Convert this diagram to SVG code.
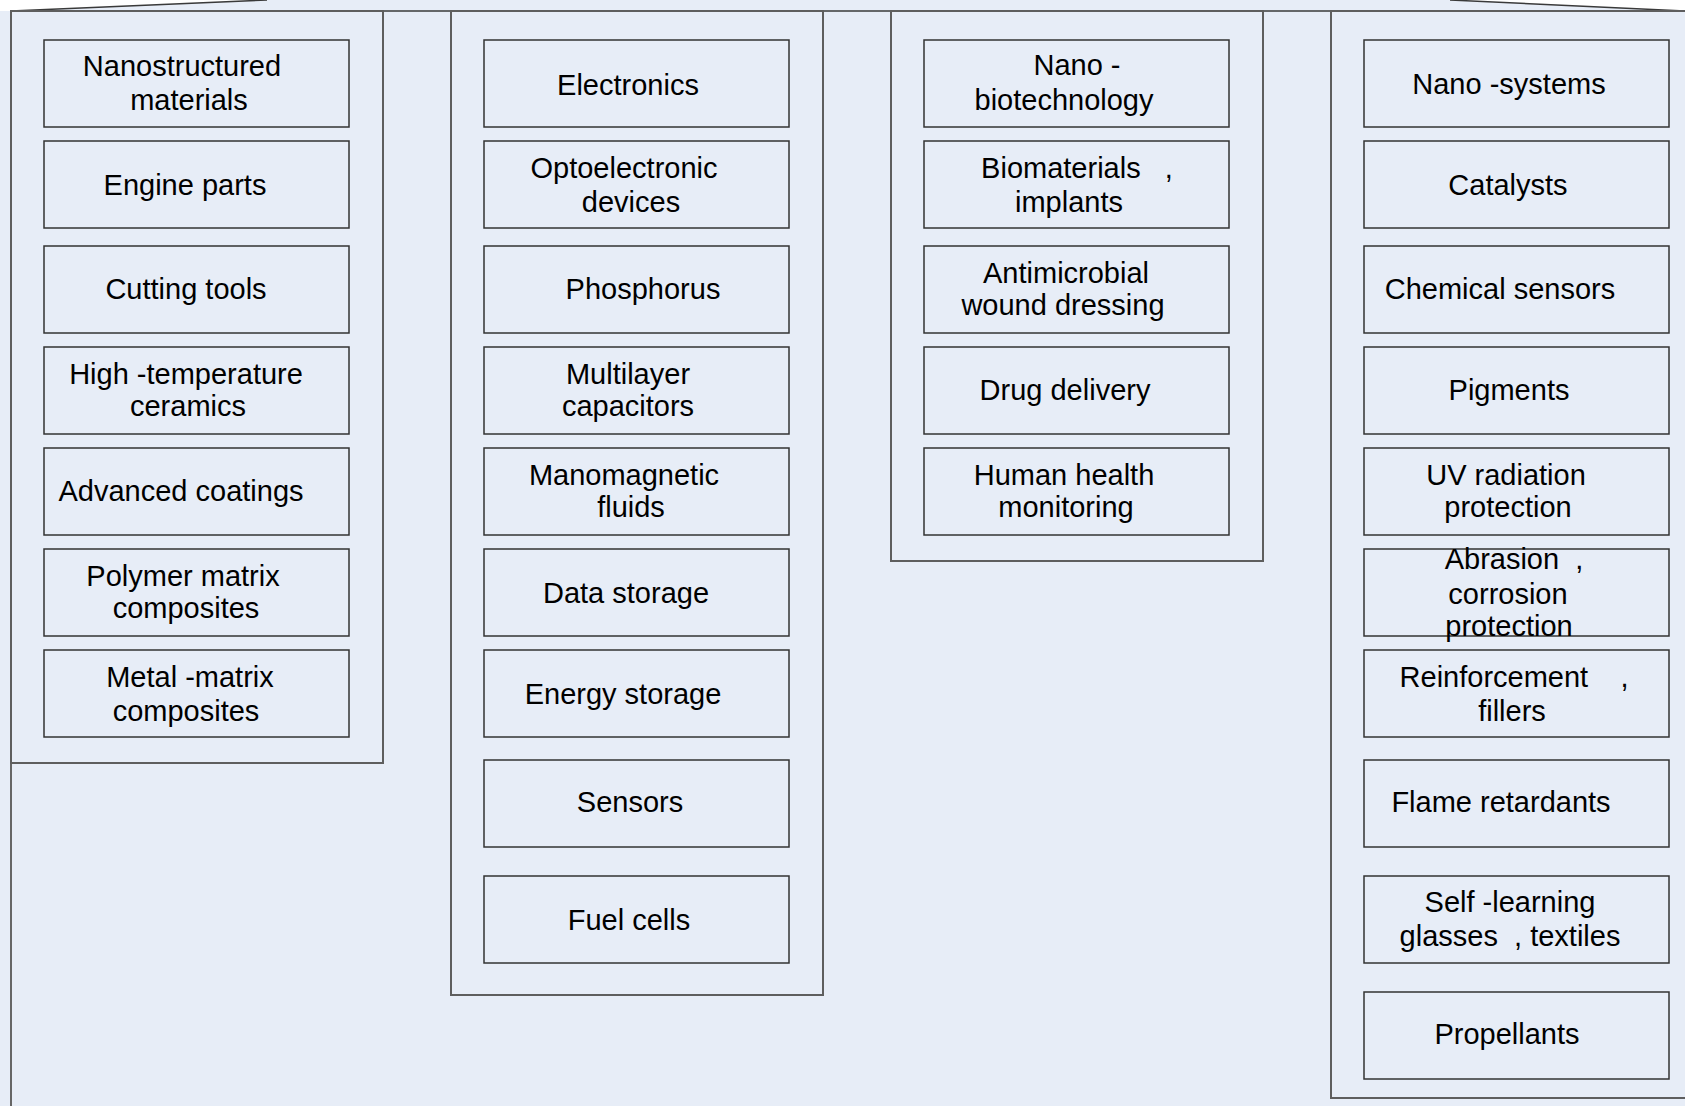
<svg xmlns="http://www.w3.org/2000/svg" width="1685" height="1106" viewBox="0 0 1685 1106">
<style>
.bg{fill:#E7EDF7}
.cut{fill:#FFFFFF;stroke:none}
.edge{fill:none;stroke:#3a3a3a;stroke-width:1.5}
.frame{fill:none;stroke:#666;stroke-width:2}
.panel{fill:#E7EDF7;stroke:#5e5e5e;stroke-width:2}
.box{fill:#E7EDF7;stroke:#333;stroke-width:1.5}
text{font-family:"Liberation Sans",Arial,sans-serif;font-size:29px;fill:#000;text-anchor:middle;white-space:pre}
</style>
<rect class="bg" x="0" y="0" width="1685" height="1106"/>
<g id="frame">
<polygon class="cut" points="0,0 267,0 11,11 0,11"/>
<polygon class="cut" points="1450,0 1685,0 1685,11"/>
<line class="edge" x1="11" y1="11" x2="267" y2="0"/>
<line class="edge" x1="1450" y1="0" x2="1685" y2="11"/>
<line class="edge" x1="11" y1="11" x2="1685" y2="11"/>
<line class="frame" x1="11" y1="11" x2="11" y2="1106"/>
</g>
<g id="panels">
<rect id="panel1" class="panel" x="11" y="11" width="372" height="752"/>
<rect id="panel2" class="panel" x="451" y="11" width="372" height="984"/>
<rect id="panel3" class="panel" x="891" y="11" width="372" height="550"/>
<rect id="panel4" class="panel" x="1331" y="11" width="370" height="1087"/>
</g>
<g id="connectors"/>
<!-- Column 1 -->
<g id="n-nanostructured"><rect class="box" x="44" y="40" width="305" height="87"/><text x="182" y="76">Nanostructured</text><text x="189" y="110">materials</text></g>
<g id="n-engine"><rect class="box" x="44" y="141" width="305" height="87"/><text x="185" y="195">Engine parts</text></g>
<g id="n-cutting"><rect class="box" x="44" y="246" width="305" height="87"/><text x="186" y="299">Cutting tools</text></g>
<g id="n-hightemp"><rect class="box" x="44" y="347" width="305" height="87"/><text x="186" y="384">High -temperature</text><text x="188" y="416">ceramics</text></g>
<g id="n-coatings"><rect class="box" x="44" y="448" width="305" height="87"/><text x="181" y="501">Advanced coatings</text></g>
<g id="n-polymer"><rect class="box" x="44" y="549" width="305" height="87"/><text x="183" y="586">Polymer matrix</text><text x="186" y="618">composites</text></g>
<g id="n-metal"><rect class="box" x="44" y="650" width="305" height="87"/><text x="190" y="687">Metal -matrix</text><text x="186" y="721">composites</text></g>
<!-- Column 2 -->
<g id="n-electronics"><rect class="box" x="484" y="40" width="305" height="87"/><text x="628" y="95">Electronics</text></g>
<g id="n-opto"><rect class="box" x="484" y="141" width="305" height="87"/><text x="624" y="178">Optoelectronic</text><text x="631" y="212">devices</text></g>
<g id="n-phosphorus"><rect class="box" x="484" y="246" width="305" height="87"/><text x="643" y="299">Phosphorus</text></g>
<g id="n-multilayer"><rect class="box" x="484" y="347" width="305" height="87"/><text x="628" y="384">Multilayer</text><text x="628" y="416">capacitors</text></g>
<g id="n-manomagnetic"><rect class="box" x="484" y="448" width="305" height="87"/><text x="624" y="485">Manomagnetic</text><text x="631" y="517">fluids</text></g>
<g id="n-data"><rect class="box" x="484" y="549" width="305" height="87"/><text x="626" y="603">Data storage</text></g>
<g id="n-energy"><rect class="box" x="484" y="650" width="305" height="87"/><text x="623" y="704">Energy storage</text></g>
<g id="n-sensors"><rect class="box" x="484" y="760" width="305" height="87"/><text x="630" y="812">Sensors</text></g>
<g id="n-fuel"><rect class="box" x="484" y="876" width="305" height="87"/><text x="629" y="930">Fuel cells</text></g>
<!-- Column 3 -->
<g id="n-nanobio"><rect class="box" x="924" y="40" width="305" height="87"/><text x="1077" y="75">Nano -</text><text x="1064" y="110">biotechnology</text></g>
<g id="n-biomaterials"><rect class="box" x="924" y="141" width="305" height="87"/><text x="1077" y="178">Biomaterials   ,</text><text x="1069" y="212">implants</text></g>
<g id="n-antimicrobial"><rect class="box" x="924" y="246" width="305" height="87"/><text x="1066" y="283">Antimicrobial</text><text x="1063" y="315">wound dressing</text></g>
<g id="n-drug"><rect class="box" x="924" y="347" width="305" height="87"/><text x="1065" y="400">Drug delivery</text></g>
<g id="n-health"><rect class="box" x="924" y="448" width="305" height="87"/><text x="1064" y="485">Human health</text><text x="1066" y="517">monitoring</text></g>
<!-- Column 4 -->
<g id="n-nanosystems"><rect class="box" x="1364" y="40" width="305" height="87"/><text x="1509" y="94">Nano -systems</text></g>
<g id="n-catalysts"><rect class="box" x="1364" y="141" width="305" height="87"/><text x="1508" y="195">Catalysts</text></g>
<g id="n-chemical"><rect class="box" x="1364" y="246" width="305" height="87"/><text x="1500" y="299">Chemical sensors</text></g>
<g id="n-pigments"><rect class="box" x="1364" y="347" width="305" height="87"/><text x="1509" y="400">Pigments</text></g>
<g id="n-uv"><rect class="box" x="1364" y="448" width="305" height="87"/><text x="1506" y="485">UV radiation</text><text x="1508" y="517">protection</text></g>
<g id="n-abrasion"><rect class="box" x="1364" y="549" width="305" height="87"/><text x="1514" y="569">Abrasion  ,</text><text x="1508" y="604">corrosion</text><text x="1509" y="636">protection</text></g>
<g id="n-reinforcement"><rect class="box" x="1364" y="650" width="305" height="87"/><text x="1514" y="687">Reinforcement    ,</text><text x="1512" y="721">fillers</text></g>
<g id="n-flame"><rect class="box" x="1364" y="760" width="305" height="87"/><text x="1501" y="812">Flame retardants</text></g>
<g id="n-selflearning"><rect class="box" x="1364" y="876" width="305" height="87"/><text x="1510" y="912">Self -learning</text><text x="1510" y="946">glasses  , textiles</text></g>
<g id="n-propellants"><rect class="box" x="1364" y="992" width="305" height="87"/><text x="1507" y="1044">Propellants</text></g>
</svg>
